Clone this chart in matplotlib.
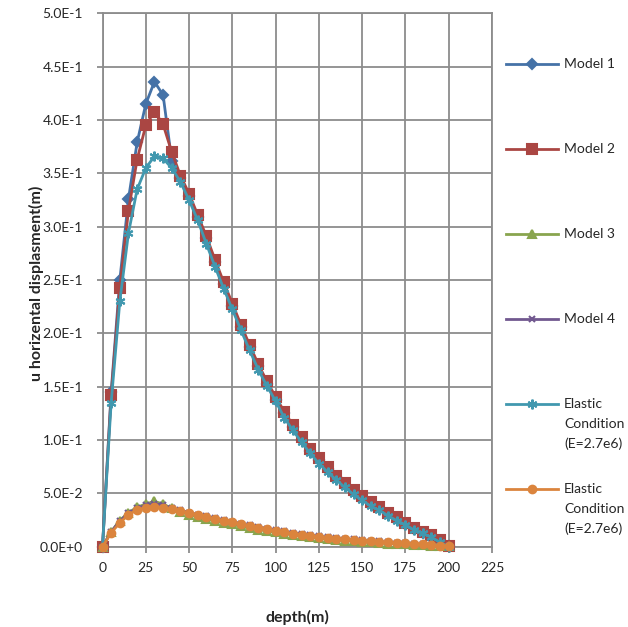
import matplotlib
matplotlib.use("Agg")
import matplotlib.pyplot as plt
from matplotlib.lines import Line2D
from matplotlib.ticker import FuncFormatter, MultipleLocator

plt.rcParams['font.family'] = ['Lato', 'DejaVu Sans']

# depth (m)
depth = [0, 5, 10, 15, 20, 25, 30, 35, 40, 45, 50, 55, 60, 65, 70, 75, 80, 85, 90, 95,
         100, 105, 110, 115, 120, 125, 130, 135, 140, 145, 150, 155, 160, 165, 170, 175,
         180, 185, 190, 195, 200]

model1 = [0, 0.145, 0.250, 0.326, 0.379, 0.415, 0.436, 0.4235, 0.362, 0.346, 0.329, 0.309,
          0.289, 0.267, 0.246, 0.226, 0.206, 0.187, 0.169, 0.153, 0.138, 0.125, 0.112, 0.100,
          0.090, 0.081, 0.073, 0.065, 0.058, 0.052, 0.046, 0.041, 0.036, 0.031, 0.026, 0.021,
          0.017, 0.013, 0.009, 0.005, 0.001]
model2 = [0, 0.142, 0.243, 0.315, 0.363, 0.395, 0.408, 0.396, 0.370, 0.348, 0.331, 0.311,
          0.291, 0.269, 0.248, 0.228, 0.208, 0.189, 0.171, 0.155, 0.1406, 0.1266, 0.114,
          0.1025, 0.092, 0.083, 0.0744, 0.0666, 0.0594, 0.0531, 0.0478, 0.042, 0.0375, 0.032,
          0.0275, 0.0225, 0.018, 0.014, 0.011, 0.0063, 0.0007]
model3 = [0, 0.014, 0.0245, 0.032, 0.037, 0.040, 0.0425, 0.040, 0.036, 0.033, 0.030, 0.028,
          0.026, 0.024, 0.0225, 0.021, 0.019, 0.0175, 0.016, 0.0147, 0.0134, 0.0122, 0.011,
          0.010, 0.009, 0.0081, 0.0072, 0.0064, 0.0057, 0.0051, 0.0045, 0.0040, 0.0035,
          0.0030, 0.0026, 0.0022, 0.0018, 0.0014, 0.0010, 0.0006, 0.0002]
model4 = [0, 0.014, 0.024, 0.0315, 0.036, 0.039, 0.0405, 0.039, 0.036, 0.034, 0.032, 0.030,
          0.0285, 0.0267, 0.025, 0.0233, 0.0217, 0.0201, 0.0185, 0.017, 0.0156, 0.0143,
          0.0131, 0.012, 0.011, 0.010, 0.0091, 0.0083, 0.0075, 0.0068, 0.0061, 0.0055,
          0.0049, 0.0044, 0.0039, 0.0034, 0.0029, 0.0024, 0.0018, 0.0011, 0.0004]
elastic1 = [0, 0.135, 0.230, 0.294, 0.335, 0.355, 0.366, 0.364, 0.355, 0.342, 0.325, 0.306,
            0.284, 0.2625, 0.242, 0.2225, 0.203, 0.184, 0.166, 0.1506, 0.1366, 0.121, 0.109,
            0.098, 0.0875, 0.078, 0.070, 0.0625, 0.0556, 0.049, 0.0434, 0.038, 0.034, 0.029,
            0.0244, 0.0206, 0.0156, 0.0125, 0.0088, 0.0041, 0.0]
elastic2 = [0, 0.013, 0.0225, 0.030, 0.0345, 0.0366, 0.0375, 0.0366, 0.035, 0.0335, 0.0315,
            0.030, 0.028, 0.026, 0.0245, 0.0228, 0.021, 0.0195, 0.0178, 0.0163, 0.0148,
            0.0135, 0.0123, 0.0112, 0.0102, 0.0093, 0.0084, 0.0076, 0.0069, 0.0062, 0.0056,
            0.0050, 0.0045, 0.0040, 0.0035, 0.0031, 0.0027, 0.0022, 0.0017, 0.0011, 0.0004]

labels = ['Model 1', 'Model 2', 'Model 3', 'Model 4',
          'Elastic\nCondition\n(E=2.7e6)', 'Elastic\nCondition\n(E=2.7e6)']
series = [model1, model2, model3, model4, elastic1, elastic2]
colors = ['#4572A7', '#AA4643', '#89A54E', '#71588F', '#4198AF', '#DB843D']
markers = ['D', 's', '^', 'x', (6, 2, 0), 'o']
msizes = [5, 7.5, 6, 4.5, 7, 5.5]

W, H = 628, 627
fig = plt.figure(figsize=(W / 100, H / 100), dpi=100)
ax = fig.add_axes([102.5 / W, 1 - 546.7 / H, 389.5 / W, 533.3 / H])

for y, c, m, ms in zip(series, colors, markers, msizes):
    ax.plot(depth, y, color=c, lw=2, marker=m, ms=ms, mec=c, mfc=c, mew=1.5,
            clip_on=False, zorder=3)

grid = '#8C8C8C'
txt = '#262626'
ax.set_xlim(0, 225)
ax.set_ylim(0, 0.5)
ax.xaxis.set_major_locator(MultipleLocator(25))
ax.yaxis.set_major_locator(MultipleLocator(0.05))


def sci(v, pos):
    m, e = f"{v:.1E}".split('E')
    return f"{m}E{int(e):+d}"


ax.yaxis.set_major_formatter(FuncFormatter(sci))
ax.grid(True, color=grid, lw=1.3)
ax.set_axisbelow(True)
for s in ax.spines.values():
    s.set_color(grid)
    s.set_linewidth(1.3)
ax.tick_params(axis='both', direction='out', length=4, width=1.3, color=grid,
               labelsize=10, labelcolor=txt)
ax.tick_params(axis='y', pad=10)
ax.tick_params(axis='x', pad=7)

ax.set_ylabel('u horizental displasment(m)', fontsize=11.5, fontweight='bold',
              color=txt, va='center')
ax.yaxis.set_label_coords((36 - 102.5) / 389.5, 0.494)
ax.set_xlabel('depth(m)', fontsize=11.5, fontweight='bold', color=txt, va='center')
ax.xaxis.set_label_coords(0.5, (546.7 - 617) / 533.3)

# legend drawn by hand so the line sits on the first text line
row_y = [64, 149, 234, 319, 404, 489]
for ry, lab, c, m, ms in zip(row_y, labels, colors, markers, msizes):
    yf = 1 - ry / H
    fig.add_artist(Line2D([506 / W, 532 / W, 558 / W], [yf, yf, yf], color=c, lw=2,
                          marker=m, ms=ms, mec=c, mfc=c, mew=1.5, markevery=[1]))
    for k, part in enumerate(lab.split('\n')):
        fig.text(564 / W, 1 - (ry + k * 19.7) / H, part, fontsize=10,
                 color=txt, va='center', ha='left')

fig.savefig('out.png', dpi=100)
